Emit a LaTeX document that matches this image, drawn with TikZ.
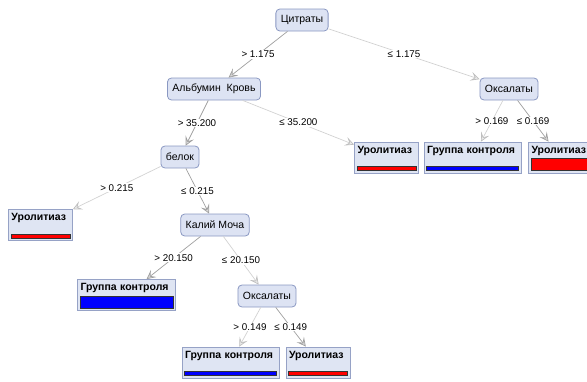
\documentclass[tikz,border=0pt]{standalone}
\usepackage{fontspec}
\setmainfont{Liberation Sans}
\usetikzlibrary{arrows.meta}

\definecolor{splitfill}{RGB}{221,227,243}
\definecolor{splitline}{RGB}{138,152,194}
\definecolor{leaffill}{RGB}{223,229,243}
\definecolor{leafline}{RGB}{150,162,198}

\tikzset{
  split/.style={shape=rectangle, rounded corners=4pt, draw=splitline, fill=splitfill,
    line width=0.8pt, minimum height=22pt, inner xsep=5pt, font=\fontsize{10.5}{12}\selectfont},
  leaf/.style={shape=rectangle, draw=leafline, fill=leaffill, text width=#1,
    line width=0.8pt, align=left, inner sep=3pt, text height=8pt, text depth=17pt,
    font=\fontsize{10.5}{12}\selectfont\bfseries},
  heavy/.style={draw=gray!75, line width=0.7pt,
    -{Stealth[length=9pt,width=9pt,inset=4pt,fill=gray!30]}},
  light/.style={draw=gray!35, line width=0.7pt,
    -{Stealth[length=9pt,width=9pt,inset=4pt,fill=gray!15,color=gray!50]}},
  cond/.style={midway, fill=white, inner sep=1pt, font=\fontsize{9.8}{11}\selectfont},
  redbar/.style={draw=black!80, fill=red, line width=0.8pt},
  bluebar/.style={draw=black!80, fill=blue, line width=0.8pt}
}

\begin{document}
\begin{tikzpicture}[x=1pt, y=-1pt]
	\useasboundingbox (0,0) rectangle (587,381);
	\clip (0,0) rectangle (587,381);

	% inner splits
	\node[split] (citr) at (302,20) {Цитраты};
	\node[split] (alb) at (214,89) {Альбумин\ \ Кровь};
	\node[split] (oks1) at (509,89) {Оксалаты};
	\node[split] (belok) at (180,157) {белок};
	\node[split] (kal) at (215,225) {Калий Моча};
	\node[split] (oks2) at (267,296) {Оксалаты};

	% leaves
	\node[leaf=58pt] (urol1) at (386.5,157.5) {Уролитиаз};
	\node[leaf=91pt] (grp1) at (472.5,157.5) {Группа контроля};
	\node[leaf=58pt] (urol2) at (560.5,157.5) {Уролитиаз};
	\node[leaf=58pt] (urol3) at (40.5,225) {Уролитиаз};
	\node[leaf=92pt] (grp2) at (126.5,295) {Группа контроля};
	\node[leaf=91pt] (grp3) at (230.5,362.5) {Группа контроля};
	\node[leaf=58pt] (urol4) at (318,362.5) {Уролитиаз};

	% class bars
	\draw[redbar] ([shift={(3pt,3pt)}]urol1.south west) rectangle ([shift={(-3pt,7pt)}]urol1.south east);
	\draw[bluebar] ([shift={(3pt,3pt)}]grp1.south west) rectangle ([shift={(-3pt,7pt)}]grp1.south east);
	\draw[redbar] ([shift={(3pt,3pt)}]urol2.south west) rectangle ([shift={(-3pt,15pt)}]urol2.south east);
	\draw[redbar] ([shift={(3pt,3pt)}]urol3.south west) rectangle ([shift={(-3pt,7pt)}]urol3.south east);
	\draw[bluebar] ([shift={(3pt,3pt)}]grp2.south west) rectangle ([shift={(-3pt,15pt)}]grp2.south east);
	\draw[bluebar] ([shift={(3pt,3pt)}]grp3.south west) rectangle ([shift={(-3pt,7pt)}]grp3.south east);
	\draw[redbar] ([shift={(3pt,3pt)}]urol4.south west) rectangle ([shift={(-3pt,7pt)}]urol4.south east);

	% branches
	\path[heavy] (citr) edge node[cond] {> 1.175} (alb);
	\path[light] (citr) edge node[cond] {≤ 1.175} (oks1);
	\path[heavy] (alb) edge node[cond] {> 35.200} (belok);
	\path[light] (alb) edge node[cond] {≤ 35.200} (urol1);
	\path[light] (oks1) edge node[cond] {> 0.169} (grp1);
	\path[heavy] (oks1) edge node[cond] {≤ 0.169} (urol2);
	\path[light] (belok) edge node[cond] {> 0.215} (urol3);
	\path[heavy] (belok) edge node[cond] {≤ 0.215} (kal);
	\path[heavy] (kal) edge node[cond] {> 20.150} (grp2);
	\path[light] (kal) edge node[cond] {≤ 20.150} (oks2);
	\path[light] (oks2) edge node[cond] {> 0.149} (grp3);
	\path[heavy] (oks2) edge node[cond] {≤ 0.149} (urol4);
\end{tikzpicture}
\end{document}
